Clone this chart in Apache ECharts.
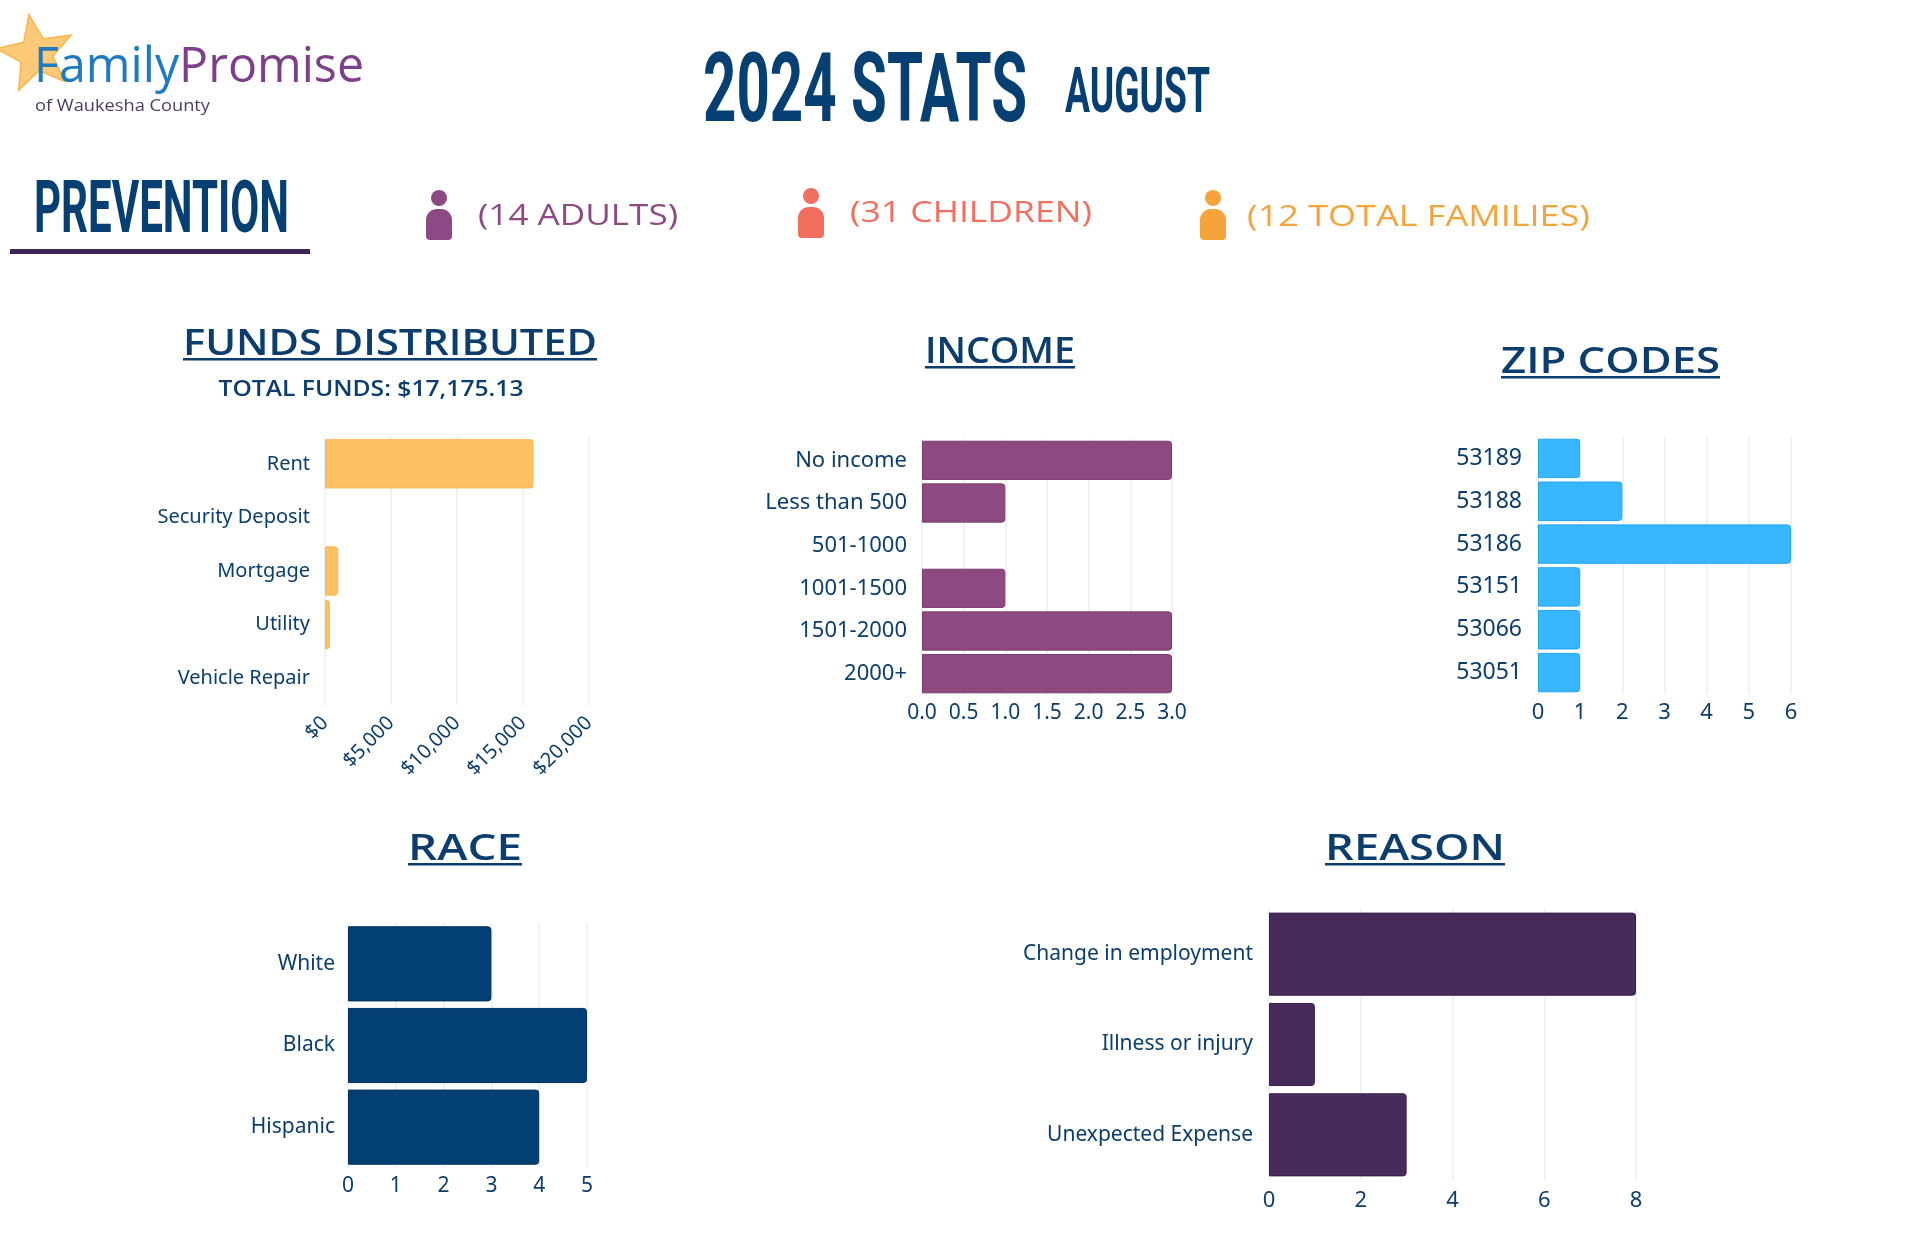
<!DOCTYPE html>
<html>
<head>
<meta charset="utf-8">
<script src="https://cdn.jsdelivr.net/npm/echarts@6/dist/echarts.min.js"></script>
<style>
html,body{margin:0;padding:0;background:#fff;}
#chart{width:1920px;height:1242px;}
</style>
</head>
<body>
<div id="chart"></div>
<script>
// ---------- DATA ----------
const fundsCategories = ['Rent', 'Security Deposit', 'Mortgage', 'Utility', 'Vehicle Repair'];
const fundsValues = [15800, 0, 1000, 375, 0];
const fundsTicks = [0, 5000, 10000, 15000, 20000];

const incomeCategories = ['No income', 'Less than 500', '501-1000', '1001-1500', '1501-2000', '2000+'];
const incomeValues = [3, 1, 0, 1, 3, 3];

const zipCategories = ['53189', '53188', '53186', '53151', '53066', '53051'];
const zipValues = [1, 2, 6, 1, 1, 1];

const raceCategories = ['White', 'Black', 'Hispanic'];
const raceValues = [3, 5, 4];

const reasonCategories = ['Change in employment', 'Illness or injury', 'Unexpected Expense'];
const reasonValues = [8, 1, 3];

const statTexts = ['(14 ADULTS)', '(31 CHILDREN)', '(12 TOTAL FAMILIES)'];
const totalFundsText = 'TOTAL FUNDS: $17,175.13';

// ---------- STYLE ----------
const NAVY = '#0B3D6D';
const GRID_COLOR = '#E8EDF3';
const LABEL_FONT = '"Noto Sans", "Open Sans", sans-serif';

const ctx = document.createElement('canvas').getContext('2d');
function fit(text, weight, size, family, target) {
  ctx.font = weight + ' ' + size + 'px ' + family;
  const w = ctx.measureText(text).width;
  return w > 0 ? target / w : 1;
}

function textEl(text, opt) {
  const family = opt.family || '"Open Sans", sans-serif';
  const weight = opt.weight || 600;
  const size = opt.size;
  const sx = opt.width ? fit(text, weight, size, family, opt.width) : 1;
  const align = opt.align || 'center';
  return {
    type: 'text',
    x: opt.x, y: opt.y,
    scaleX: sx,
    z: 10,
    style: {
      text: text,
      fontSize: size, fontFamily: family, fontWeight: weight,
      fill: opt.color || NAVY,
      align: align, textAlign: align,
      verticalAlign: 'middle', textVerticalAlign: 'middle'
    }
  };
}

function underlinedTitle(text, x0, x1, cy, uy) {
  return [
    textEl(text, {x: (x0 + x1) / 2, y: cy, size: 36, weight: 600, width: x1 - x0}),
    {type: 'rect', shape: {x: x0, y: uy, width: x1 - x0, height: 2.5}, style: {fill: NAVY}}
  ];
}

function personIcon(x, y, color) {
  return {
    type: 'group', x: x, y: y,
    children: [
      {type: 'circle', shape: {cx: 13, cy: 8, r: 8}, style: {fill: color}},
      {type: 'rect', shape: {x: 0, y: 19, width: 26, height: 31, r: [11, 11, 4, 4]}, style: {fill: color}}
    ]
  };
}

function starPoints(cx, cy, R, r, rot) {
  const pts = [];
  for (let i = 0; i < 10; i++) {
    const a = rot + i * Math.PI / 5 - Math.PI / 2;
    const rr = i % 2 === 0 ? R : r;
    pts.push([cx + rr * Math.cos(a), cy + rr * Math.sin(a)]);
  }
  return pts;
}

const graphics = [
  // logo
  {type: 'polygon', z: 1, shape: {points: starPoints(36, 54, 40, 17, -0.18)}, style: {fill: '#FBC062', opacity: 0.85, stroke: '#F6AE3E', lineWidth: 1.5}},
  {type: 'text', x: 34, y: 68, z: 10, scaleX: fit('FamilyPromise', 400, 50, '"Open Sans"', 330),
    style: {text: '{a|Family}{b|Promise}', fontSize: 50, fontFamily: '"Open Sans"', align: 'left', textAlign: 'left',
      verticalAlign: 'middle', textVerticalAlign: 'middle',
      rich: {a: {fill: '#1F7BC0', fontSize: 50, fontFamily: '"Open Sans"'}, b: {fill: '#7D3F88', fontSize: 50, fontFamily: '"Open Sans"'}}}},
  textEl('of Waukesha County', {x: 35, y: 106, size: 17, weight: 400, align: 'left', color: '#4E3B63', width: 175}),
  // headline
  textEl('2024 STATS', {x: 703, y: 97, size: 96, weight: 700, family: 'Roboto', align: 'left', width: 324, color: '#063F71'}),
  textEl('AUGUST', {x: 1065, y: 96, size: 63, weight: 700, family: 'Roboto', align: 'left', width: 145, color: '#063F71'}),
  textEl('PREVENTION', {x: 34, y: 214, size: 73, weight: 700, family: 'Roboto', align: 'left', width: 255, color: '#063F71'}),
  {type: 'rect', shape: {x: 10, y: 249, width: 300, height: 5}, style: {fill: '#3F2555'}},
  // stats
  personIcon(426, 190, '#8B4A84'),
  textEl(statTexts[0], {x: 478, y: 217, size: 29, weight: 500, align: 'left', width: 200, color: '#8B4A84'}),
  personIcon(798, 188, '#F26E5F'),
  textEl(statTexts[1], {x: 850, y: 214, size: 29, weight: 500, align: 'left', width: 242, color: '#F26E5F'}),
  personIcon(1200, 190, '#F5A33B'),
  textEl(statTexts[2], {x: 1247, y: 218, size: 29, weight: 500, align: 'left', width: 343, color: '#F5A33B'}),
  // section titles
  ...underlinedTitle('FUNDS DISTRIBUTED', 183, 597, 345, 358),
  textEl(totalFundsText, {x: 371, y: 390, size: 21, weight: 600, width: 305}),
  ...underlinedTitle('INCOME', 925, 1075, 353, 366),
  ...underlinedTitle('ZIP CODES', 1501, 1720, 363, 376),
  ...underlinedTitle('RACE', 408, 522, 850, 863),
  ...underlinedTitle('REASON', 1325, 1505, 850, 863)
];

// ---------- CHART ----------
function catAxis(gi, cats, fontSize, margin) {
  return {
    type: 'category', gridIndex: gi, data: cats, inverse: true,
    axisLine: {show: false}, axisTick: {show: false},
    axisLabel: {color: NAVY, fontSize: fontSize, fontFamily: LABEL_FONT, margin: margin}
  };
}
function valAxis(gi, min, max, interval, label) {
  return {
    type: 'value', gridIndex: gi, min: min, max: max, interval: interval,
    axisLine: {show: false}, axisTick: {show: false},
    splitLine: {show: true, lineStyle: {color: GRID_COLOR, width: 1.5}},
    axisLabel: Object.assign({color: NAVY, fontSize: 21, fontFamily: LABEL_FONT, margin: 8}, label || {})
  };
}
function barSeries(gi, values, color, border) {
  return {
    type: 'bar', xAxisIndex: gi, yAxisIndex: gi,
    data: values.map(v => ({value: v, itemStyle: {borderWidth: v === 0 ? 0 : 1}})),
    barCategoryGap: '8%', silent: true,
    itemStyle: {color: color, borderColor: border, borderWidth: 1, borderRadius: [0, 3, 3, 0]}
  };
}

const option = {
  backgroundColor: '#ffffff',
  animation: false,
  grid: [
    {left: 325, top: 437, width: 264, height: 268},
    {left: 922, top: 439, width: 250, height: 256},
    {left: 1538, top: 437, width: 253, height: 257},
    {left: 348, top: 923, width: 239, height: 245},
    {left: 1269, top: 909, width: 367, height: 271}
  ],
  xAxis: [
    valAxis(0, fundsTicks[0], fundsTicks[fundsTicks.length - 1], fundsTicks[1] - fundsTicks[0],
      {rotate: 45, fontSize: 20, margin: 15, formatter: v => '$' + v.toLocaleString('en-US')}),
    valAxis(1, 0, 3, 0.5, {formatter: v => v.toFixed(1)}),
    valAxis(2, 0, 6, 1, {fontSize: 22}),
    valAxis(3, 0, 5, 1),
    valAxis(4, 0, 8, 2, {fontSize: 22, margin: 10})
  ],
  yAxis: [
    catAxis(0, fundsCategories, 20, 15),
    catAxis(1, incomeCategories, 22, 15),
    catAxis(2, zipCategories, 23, 16),
    catAxis(3, raceCategories, 21, 13),
    catAxis(4, reasonCategories, 21, 16)
  ],
  series: [
    barSeries(0, fundsValues, '#FEC062', '#FBB650'),
    barSeries(1, incomeValues, '#8C4A80', '#7A3A6F'),
    barSeries(2, zipValues, '#38B6FF', '#1FA6F2'),
    barSeries(3, raceValues, '#023F73', '#01325C'),
    barSeries(4, reasonValues, '#472C5B', '#37204A')
  ],
  graphic: graphics
};

const chart = echarts.init(document.getElementById('chart'), null, {renderer: 'canvas'});
chart.setOption(option);
</script>
</body>
</html>
